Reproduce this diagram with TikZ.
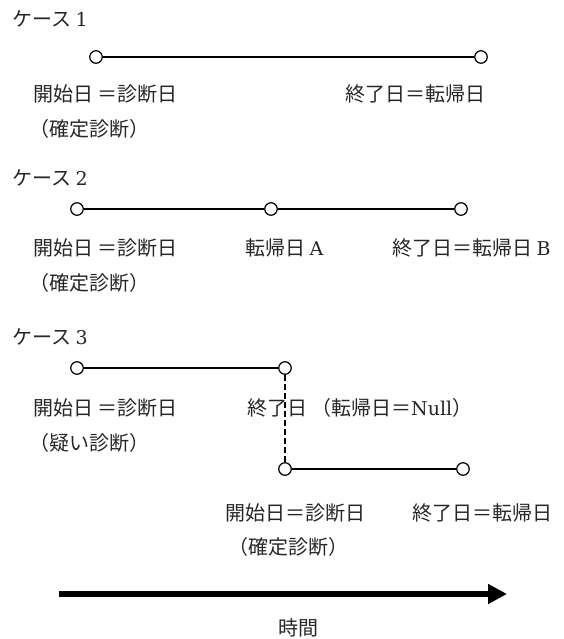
\documentclass[tikz,border=0pt]{standalone}
\usepackage{fontspec}
\usepackage{tikz}
\usetikzlibrary{arrows.meta}
\newfontfamily\jpfont{Noto Sans CJK JP}
\newfontfamily\latfont{DejaVu Serif}
\newcommand{\lat}[1]{{\latfont\fontsize{19}{23}\selectfont #1}}

\tikzset{
  dot/.style={circle, draw, fill=white, line width=1.2pt, minimum size=12.5pt, inner sep=0pt},
  lbl/.style={anchor=west, inner sep=0pt, text=black!85, font=\jpfont\fontsize{20}{23}\selectfont},
  seg/.style={line width=1.2pt},
}

\begin{document}
\begin{tikzpicture}[x=1pt, y=-1pt]
\useasboundingbox (0,0) rectangle (563,639);

% case 1
\node[lbl] (h1) at (12,19) {ケース \lat{1}};
\node[dot] (a1) at (96,57) {};
\node[dot] (b1) at (481,57) {};
\draw[seg] (a1) -- (b1);
\node[lbl] (s1) at (33,94) {開始日 ＝診断日};
\node[lbl] (e1) at (345,94) {終了日＝転帰日};
\node[lbl] (p1) at (29,129) {（確定診断）};

% case 2
\node[lbl] (h2) at (12,178) {ケース \lat{2}};
\node[dot] (a2) at (77,209) {};
\node[dot] (m2) at (271,209) {};
\node[dot] (b2) at (461,209) {};
\draw[seg] (a2) -- (m2);
\draw[seg] (m2) -- (b2);
\node[lbl] (s2) at (33,248) {開始日 ＝診断日};
\node[lbl] (r2) at (245,248) {転帰日 \lat{A}};
\node[lbl] (e2) at (392,248) {終了日＝転帰日 \lat{B}};
\node[lbl] (p2) at (29,283) {（確定診断）};

% case 3
\node[lbl] (h3) at (12,337) {ケース \lat{3}};
\node[dot] (a3) at (77,368) {};
\node[dot] (b3) at (285,368) {};
\draw[seg] (a3) -- (b3);
\node[lbl] (s3) at (33,408) {開始日 ＝診断日};
\node[lbl] (e3) at (247,408) {終了日\hspace{4pt}（転帰日＝\lat{Null}）};
\node[lbl] (p3) at (29,443) {（疑い診断）};
\node[dot] (c3) at (285,469) {};
\node[dot] (d3) at (463,469) {};
\draw[line width=2.2pt, dash pattern=on 6pt off 3pt] (b3.south) -- (c3.north);
\draw[seg] (c3) -- (d3);
\node[lbl] (s4) at (225,513) {開始日＝診断日};
\node[lbl] (e4) at (412,513) {終了日＝転帰日};
\node[lbl] (p4) at (228,547) {（確定診断）};

% time axis
\coordinate (ts) at (59,594);
\coordinate (te) at (507,594);
\draw[line width=6pt, -{Triangle[length=19pt, width=19pt]}] (ts) -- (te);
\node[lbl, anchor=center] (tm) at (298,628) {時間};

\end{tikzpicture}
\end{document}
